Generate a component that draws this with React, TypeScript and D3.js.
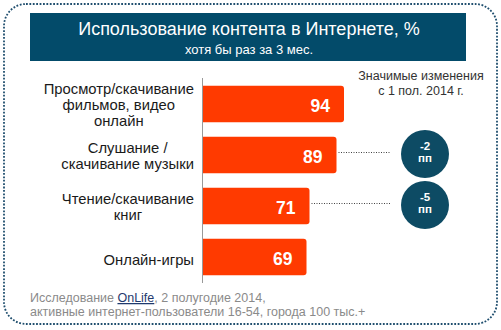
import React, { useEffect, useRef } from "react";
import * as d3 from "d3";

const categories = ["video", "music", "books", "games"];
const labelLines = [
  ["Просмотр/скачивание", "фильмов, видео", "онлайн"],
  ["Слушание /", "скачивание музыки"],
  ["Чтение/скачивание", "книг"],
  ["Онлайн-игры"],
];
const values = [94, 89, 71, 69];
const changes: (string | null)[] = ["", "-2", "-5", ""];
const title = "Использование контента в Интернете, %";
const subtitle = "хотя бы раз за 3 мес.";
const changesTitle = ["Значимые изменения", "с 1 пол. 2014 г."];
const footer1a = "Исследование ";
const footerLink = "OnLife";
const footer1b = ", 2 полугодие 2014,";
const footer2 = "активные интернет-пользователи 16-54, города 100 тыс.+";

const W = 501;
const H = 330;
const FONT = "Arial, 'Liberation Sans', sans-serif";
const BAR = "#ff3a00";
const NAVY = "#034b6a";
const CIRCLE = "#0d4b64";

export default function App() {
  const ref = useRef<SVGSVGElement>(null);

  useEffect(() => {
    const svg = d3.select(ref.current);
    svg.selectAll("*").remove();

    // Border
    svg
      .append("rect")
      .attr("x", 4)
      .attr("y", 4)
      .attr("width", 493)
      .attr("height", 320)
      .attr("rx", 22)
      .attr("fill", "none")
      .attr("stroke", "#1f4e6e")
      .attr("stroke-width", 1.8)
      .attr("stroke-dasharray", "1.8 1.6");

    // Title box
    svg.append("rect").attr("x", 30).attr("y", 13).attr("width", 436).attr("height", 48).attr("fill", NAVY);
    svg
      .append("text")
      .attr("x", 249)
      .attr("y", 35)
      .attr("text-anchor", "middle")
      .attr("font-family", FONT)
      .attr("font-size", 18)
      .attr("fill", "#fff")
      .text(title);
    svg
      .append("text")
      .attr("x", 249)
      .attr("y", 54)
      .attr("text-anchor", "middle")
      .attr("font-family", FONT)
      .attr("font-size", 13)
      .attr("fill", "#fff")
      .text(subtitle);

    const y = d3.scaleBand<string>().domain(categories).range([78.5, 282.5]).paddingInner(0.28).paddingOuter(0.14);
    const x = d3.scaleLinear().domain([0, 100]).range([203, 353]);

    // Axis line
    svg
      .append("line")
      .attr("x1", 202.5)
      .attr("x2", 202.5)
      .attr("y1", 78)
      .attr("y2", 283)
      .attr("stroke", "#999")
      .attr("stroke-width", 1);

    const r = 3;
    categories.forEach((c, i) => {
      const y0 = y(c)!;
      const h = y.bandwidth();
      const x0 = x(0);
      const x1 = x(values[i]);
      const cy = y0 + h / 2;
      svg
        .append("path")
        .attr(
          "d",
          `M${x0},${y0}H${x1 - r}Q${x1},${y0} ${x1},${y0 + r}V${y0 + h - r}Q${x1},${y0 + h} ${x1 - r},${y0 + h}H${x0}Z`
        )
        .attr("fill", BAR);
      svg
        .append("text")
        .attr("x", x1 - 14)
        .attr("y", cy + 7.5)
        .attr("text-anchor", "end")
        .attr("font-family", FONT)
        .attr("font-weight", "bold")
        .attr("font-size", 17.5)
        .attr("fill", "#fff")
        .text(String(values[i]));

      // category label, block right-aligned at 194, lines centered within block
      const lines = labelLines[i];
      const lh = 16;
      const g = svg.append("g");
      const texts = lines.map((ln, k) =>
        g
          .append("text")
          .attr("y", cy + 6 - ((lines.length - 1) / 2) * lh + k * lh + (lines.length === 1 ? 1.5 : 0))
          .attr("text-anchor", "middle")
          .attr("font-family", FONT)
          .attr("font-size", 14.8)
          .attr("fill", "#1a1a1a")
          .text(ln)
      );
      const maxW = d3.max(texts, (t) => (t.node() as SVGTextElement).getComputedTextLength()) || 0;
      texts.forEach((t) => t.attr("x", 194 - maxW / 2));

      const ch = changes[i];
      if (ch) {
        const ccx = 425;
        const ccy = cy - 1;
        svg
          .append("line")
          .attr("x1", x1 + 2)
          .attr("x2", 390)
          .attr("y1", cy - 2.5)
          .attr("y2", cy - 2.5)
          .attr("stroke", "#444")
          .attr("stroke-width", 1)
          .attr("stroke-dasharray", "1 1.5");
        svg.append("circle").attr("cx", ccx).attr("cy", ccy).attr("r", 24).attr("fill", CIRCLE);
        svg
          .append("text")
          .attr("x", ccx)
          .attr("y", ccy - 4.5)
          .attr("text-anchor", "middle")
          .attr("font-family", FONT)
          .attr("font-weight", "bold")
          .attr("font-size", 11.5)
          .attr("fill", "#fff")
          .text(ch);
        svg
          .append("text")
          .attr("x", ccx)
          .attr("y", ccy + 7.5)
          .attr("text-anchor", "middle")
          .attr("font-family", FONT)
          .attr("font-weight", "bold")
          .attr("font-size", 11.5)
          .attr("fill", "#fff")
          .text("пп");
      }
    });

    changesTitle.forEach((t, k) => {
      svg
        .append("text")
        .attr("x", 421)
        .attr("y", 80 + k * 15)
        .attr("text-anchor", "middle")
        .attr("font-family", FONT)
        .attr("font-size", 12.5)
        .attr("fill", "#333")
        .text(t);
    });

    const f1 = svg
      .append("text")
      .attr("x", 30)
      .attr("y", 302)
      .attr("font-family", FONT)
      .attr("font-size", 12.5)
      .attr("fill", "#8a8a8a");
    f1.append("tspan").text(footer1a);
    f1.append("tspan").attr("fill", "#1f3a6e").attr("text-decoration", "underline").text(footerLink);
    f1.append("tspan").text(footer1b);
    svg
      .append("text")
      .attr("x", 30)
      .attr("y", 316)
      .attr("font-family", FONT)
      .attr("font-size", 12.5)
      .attr("fill", "#8a8a8a")
      .text(footer2);
  }, []);

  return (
    <svg
      ref={ref}
      width={W}
      height={H}
      style={{ position: "absolute", left: 0, top: 0, background: "#fff" }}
    />
  );
}
